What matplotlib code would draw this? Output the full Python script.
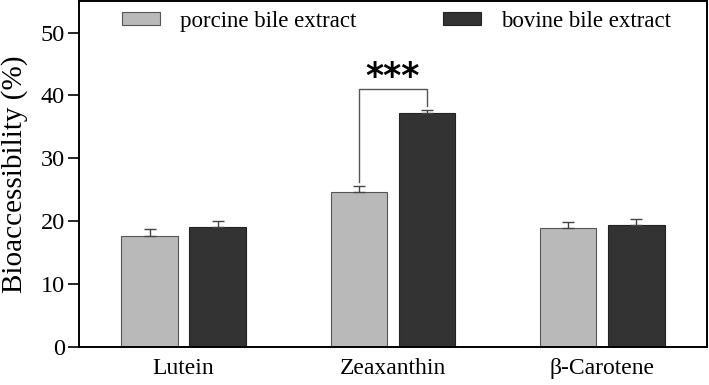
import matplotlib
matplotlib.use("Agg")
import matplotlib.pyplot as plt
import numpy as np

categories = ["Lutein", "Zeaxanthin", "β-Carotene"]
series_names = ["porcine bile extract", "bovine bile extract"]
porcine = [17.7, 24.6, 18.9]
porcine_err = [1.1, 1.0, 0.9]
bovine = [19.1, 37.2, 19.4]
bovine_err = [1.0, 0.5, 1.0]
yticks = [0, 10, 20, 30, 40, 50]
sig_label = "***"

plt.rcParams['font.family'] = ['Liberation Serif', 'DejaVu Serif']

fig = plt.figure(figsize=(7.09, 3.85), dpi=100)
ax = fig.add_axes([0.1114, 0.0987, 0.8856, 0.8983])

x = np.arange(len(categories))
w = 0.27
off = 0.163
ekw = dict(elinewidth=1.0, capsize=4.5, capthick=1.0, ecolor='#444444')
ax.bar(x - off, porcine, w, color='#b9b9b9', edgecolor='#555555', linewidth=0.8,
       label=series_names[0])
ax.bar(x + off, bovine, w, color='#333333', edgecolor='#222222', linewidth=0.8,
       label=series_names[1])
ax.errorbar(x - off, porcine, yerr=[[0]*3, porcine_err], fmt='none', **ekw)
ax.errorbar(x + off, bovine, yerr=[[0]*3, bovine_err], fmt='none', **ekw)

# significance bracket on Zeaxanthin
i = 1
yb = 41.1
ax.plot([x[i] - off, x[i] - off, x[i] + off, x[i] + off],
        [porcine[i] + porcine_err[i] + 0.6, yb, yb, bovine[i] + bovine_err[i] + 0.6],
        color='#555555', lw=1.0)
ax.text(x[i], yb - 0.9, sig_label, ha='center', va='bottom', fontsize=25,
        fontweight='bold', family=['DejaVu Sans'])

ax.set_xlim(-0.5, 2.5)
ax.set_ylim(0, 55)
ax.set_yticks(yticks)
ax.set_xticks(x)
ax.set_xticklabels(categories)
ax.tick_params(axis='x', length=0, labelsize=17, pad=8)
ax.tick_params(axis='y', length=8, width=1.2, labelsize=17.5, pad=2)
ax.set_ylabel("Bioaccessibility (%)", fontsize=21, labelpad=9)
for s in ax.spines.values():
    s.set_linewidth(1.4)
    s.set_color('black')

ax.legend(loc='upper left', bbox_to_anchor=(0.068, 0.972), ncol=2, frameon=False,
          fontsize=16.5, handlelength=1.66, handleheight=0.52, handletextpad=0.87,
          columnspacing=3.8, borderpad=0, borderaxespad=0)

fig.savefig("out.png", dpi=100)
